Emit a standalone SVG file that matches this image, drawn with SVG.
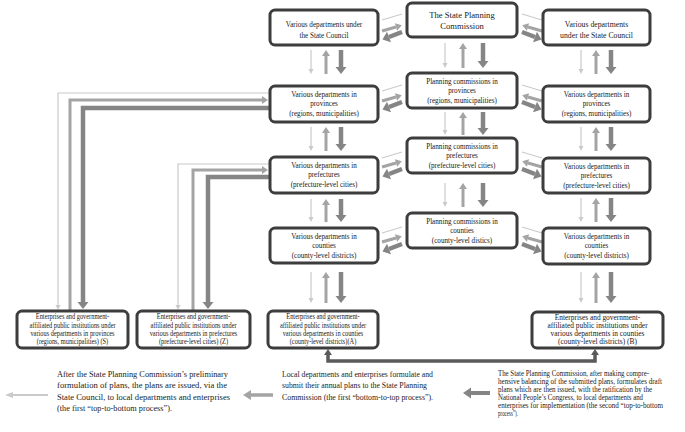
<svg xmlns="http://www.w3.org/2000/svg" width="685" height="432" viewBox="0 0 685 432">
<defs>
<style>
.box{fill:#fff;stroke:#3d3d3d;stroke-width:3}
.t{font-family:"Liberation Serif","Times New Roman",serif;font-size:8.6px;fill:#1a1a1a;text-anchor:middle}
.ts{font-size:7.4px}
.note{font-family:"Liberation Serif","Times New Roman",serif;font-size:8.6px;fill:#222}
.nr{font-size:7.3px}
.lL{fill:none;stroke:#cacaca;stroke-width:1.2}
.lM{fill:none;stroke:#a4a4a4;stroke-width:3}
.lD{fill:none;stroke:#858585;stroke-width:4.5}
.lB{fill:none;stroke:#5a5a5a;stroke-width:3.5}
</style>
<marker id="aL" markerUnits="userSpaceOnUse" markerWidth="5" markerHeight="5" refX="0" refY="2.5" orient="auto" overflow="visible"><path d="M0,0 L5,2.5 L0,5 z" fill="#cacaca"/></marker>
<marker id="aM" markerUnits="userSpaceOnUse" markerWidth="6" markerHeight="8" refX="0" refY="4" orient="auto" overflow="visible"><path d="M0,0 L6,4 L0,8 z" fill="#a4a4a4"/></marker>
<marker id="aD" markerUnits="userSpaceOnUse" markerWidth="7" markerHeight="11" refX="0" refY="5.5" orient="auto" overflow="visible"><path d="M0,0 L7,5.5 L0,11 z" fill="#858585"/></marker>
<marker id="aB" markerUnits="userSpaceOnUse" markerWidth="6" markerHeight="8" refX="0" refY="4" orient="auto-start-reverse" overflow="visible"><path d="M0,0 L6,4 L0,8 z" fill="#5a5a5a"/></marker>
<marker id="aLL" markerUnits="userSpaceOnUse" markerWidth="8" markerHeight="6" refX="0" refY="3" orient="auto" overflow="visible"><path d="M0,0 L8,3 L0,6 z" fill="#cacaca"/></marker>
<marker id="aMM" markerUnits="userSpaceOnUse" markerWidth="8" markerHeight="10" refX="0" refY="5" orient="auto" overflow="visible"><path d="M0,0 L8,5 L0,10 z" fill="#a4a4a4"/></marker>
<marker id="aDD" markerUnits="userSpaceOnUse" markerWidth="8" markerHeight="11" refX="0" refY="5.5" orient="auto" overflow="visible"><path d="M0,0 L8,5.5 L0,11 z" fill="#858585"/></marker>
</defs>
<rect width="685" height="432" fill="#fff"/>

<g id="connectors">
<!-- vertical arrows left column -->
<path class="lL" d="M311,50 V69" marker-end="url(#aL)"/>
<path class="lM" d="M326,74 V56" marker-end="url(#aM)"/>
<path class="lD" d="M341,50 V67" marker-end="url(#aD)"/>
<path class="lL" d="M311,127 V146" marker-end="url(#aL)"/>
<path class="lM" d="M326,151 V133" marker-end="url(#aM)"/>
<path class="lD" d="M341,127 V144" marker-end="url(#aD)"/>
<path class="lL" d="M311,199 V217" marker-end="url(#aL)"/>
<path class="lM" d="M326,222 V205" marker-end="url(#aM)"/>
<path class="lD" d="M341,199 V215" marker-end="url(#aD)"/>
<path class="lL" d="M311,272 V298" marker-end="url(#aL)"/>
<path class="lM" d="M326,303 V278" marker-end="url(#aM)"/>
<path class="lD" d="M341,272 V296" marker-end="url(#aD)"/>
<!-- vertical arrows center column -->
<path class="lL" d="M445,43 V63" marker-end="url(#aL)"/>
<path class="lM" d="M463,68 V49" marker-end="url(#aM)"/>
<path class="lD" d="M483,43 V61" marker-end="url(#aD)"/>
<path class="lL" d="M445,112 V130" marker-end="url(#aL)"/>
<path class="lM" d="M463,135 V118" marker-end="url(#aM)"/>
<path class="lD" d="M483,112 V128" marker-end="url(#aD)"/>
<path class="lL" d="M445,183 V202" marker-end="url(#aL)"/>
<path class="lM" d="M463,207 V189" marker-end="url(#aM)"/>
<path class="lD" d="M483,183 V200" marker-end="url(#aD)"/>
<!-- vertical arrows right column -->
<path class="lL" d="M581,50 V69" marker-end="url(#aL)"/>
<path class="lM" d="M596,74 V56" marker-end="url(#aM)"/>
<path class="lD" d="M611,50 V67" marker-end="url(#aD)"/>
<path class="lL" d="M581,127 V146" marker-end="url(#aL)"/>
<path class="lM" d="M596,151 V133" marker-end="url(#aM)"/>
<path class="lD" d="M611,127 V144" marker-end="url(#aD)"/>
<path class="lL" d="M581,198 V217" marker-end="url(#aL)"/>
<path class="lM" d="M596,222 V204" marker-end="url(#aM)"/>
<path class="lD" d="M611,198 V215" marker-end="url(#aD)"/>
<path class="lL" d="M581,272 V298" marker-end="url(#aL)"/>
<path class="lM" d="M596,303 V278" marker-end="url(#aM)"/>
<path class="lD" d="M611,272 V296" marker-end="url(#aD)"/>
<!-- slanted arrows, row 1 (T=3) -->
<path class="lL" d="M402,14 L382,20"/>
<path class="lM" d="M382,31 L396,27" marker-end="url(#aM)"/>
<path class="lD" d="M402,32 L389,37" marker-end="url(#aD)"/>
<path class="lL" d="M522,14 L542,20"/>
<path class="lM" d="M542,31 L528,27" marker-end="url(#aM)"/>
<path class="lD" d="M522,32 L535,37" marker-end="url(#aD)"/>
<!-- row 2 (T=73) -->
<path class="lL" d="M402,85 L382,91"/>
<path class="lM" d="M382,101 L396,97" marker-end="url(#aM)"/>
<path class="lD" d="M402,102 L389,107" marker-end="url(#aD)"/>
<path class="lL" d="M522,85 L542,91"/>
<path class="lM" d="M542,101 L528,97" marker-end="url(#aM)"/>
<path class="lD" d="M522,102 L535,107" marker-end="url(#aD)"/>
<!-- row 3 (T=138) -->
<path class="lL" d="M402,152 L382,158"/>
<path class="lM" d="M382,167 L396,163" marker-end="url(#aM)"/>
<path class="lD" d="M402,169 L389,174" marker-end="url(#aD)"/>
<path class="lL" d="M522,152 L542,158"/>
<path class="lM" d="M542,167 L528,163" marker-end="url(#aM)"/>
<path class="lD" d="M522,169 L535,174" marker-end="url(#aD)"/>
<!-- row 4 (T=213) -->
<path class="lL" d="M402,227 L382,233"/>
<path class="lM" d="M382,242 L396,238" marker-end="url(#aM)"/>
<path class="lD" d="M402,244 L389,249" marker-end="url(#aD)"/>
<path class="lL" d="M522,227 L542,233"/>
<path class="lM" d="M542,242 L528,238" marker-end="url(#aM)"/>
<path class="lD" d="M522,244 L535,249" marker-end="url(#aD)"/>
<!-- left elbow connectors: provinces <-> S -->
<path class="lL" d="M270,93 H58 V305" marker-end="url(#aL)"/>
<path class="lM" d="M70,311 V100 H262" marker-end="url(#aM)"/>
<path class="lD" d="M270,108 H83 V302" marker-end="url(#aD)"/>
<!-- prefectures <-> Z -->
<path class="lL" d="M270,164 H178 V305" marker-end="url(#aL)"/>
<path class="lM" d="M193,311 V170 H262" marker-end="url(#aM)"/>
<path class="lD" d="M270,177 H208 V302" marker-end="url(#aD)"/>
<!-- bottom link A <-> B -->
<path class="lB" d="M328,355 V361 H595 V355" marker-start="url(#aB)" marker-end="url(#aB)"/>
<!-- legend arrows -->
<path fill="none" stroke="#cacaca" stroke-width="2.2" d="M48,395 H13" marker-end="url(#aLL)"/>
<path fill="none" stroke="#a4a4a4" stroke-width="3.5" d="M273,395 H251" marker-end="url(#aMM)"/>
<path fill="none" stroke="#858585" stroke-width="4" d="M490,393 H471" marker-end="url(#aDD)"/>
</g>

<g id="n-council-left">
<rect class="box" x="270" y="10" width="108" height="35" rx="5"/>
<g transform="translate(324,0) scale(0.83,1)"><text class="t" x="0" y="27">Various departments under</text><text class="t" x="0" y="38">the State Council</text></g>
</g>
<g id="n-spc">
<rect class="box" x="407" y="3" width="110" height="34" rx="5"/>
<text class="t" x="462" y="17.5">The State Planning</text>
<text class="t" x="462" y="28.5">Commission</text>
</g>
<g id="n-council-right">
<rect class="box" x="543" y="10" width="107" height="35" rx="5"/>
<g transform="translate(596.5,0) scale(0.9,1)"><text class="t" x="0" y="27">Various departments</text><text class="t" x="0" y="38">under the State Council</text></g>
</g>

<g id="n-prov-left">
<rect class="box" x="270" y="86" width="108" height="36" rx="5"/>
<g transform="translate(324,0) scale(0.83,1)"><text class="t" x="0" y="97">Various departments in</text><text class="t" x="0" y="106.5">provinces</text><text class="t" x="0" y="116">(regions, municipalities)</text></g>
</g>
<g id="n-prov-center">
<rect class="box" x="407" y="73" width="110" height="35" rx="5"/>
<g transform="translate(462,0) scale(0.83,1)"><text class="t" x="0" y="84">Planning commissions in</text><text class="t" x="0" y="93.5">provinces</text><text class="t" x="0" y="103">(regions, municipalities)</text></g>
</g>
<g id="n-prov-right">
<rect class="box" x="543" y="86" width="107" height="36" rx="5"/>
<g transform="translate(596.5,0) scale(0.83,1)"><text class="t" x="0" y="97">Various departments in</text><text class="t" x="0" y="106.5">provinces</text><text class="t" x="0" y="116">(regions, municipalities)</text></g>
</g>

<g id="n-pref-left">
<rect class="box" x="270" y="157" width="108" height="36" rx="5"/>
<g transform="translate(324,0) scale(0.83,1)"><text class="t" x="0" y="168">Various departments in</text><text class="t" x="0" y="177.5">prefectures</text><text class="t" x="0" y="187">(prefecture-level cities)</text></g>
</g>
<g id="n-pref-center">
<rect class="box" x="407" y="138" width="110" height="35" rx="5"/>
<g transform="translate(462,0) scale(0.83,1)"><text class="t" x="0" y="149">Planning commissions in</text><text class="t" x="0" y="158.5">prefectures</text><text class="t" x="0" y="168">(prefecture-level cities)</text></g>
</g>
<g id="n-pref-right">
<rect class="box" x="543" y="158" width="107" height="35" rx="5"/>
<g transform="translate(596.5,0) scale(0.83,1)"><text class="t" x="0" y="169">Various departments in</text><text class="t" x="0" y="178.5">prefectures</text><text class="t" x="0" y="188">(prefecture-level cities)</text></g>
</g>

<g id="n-county-left">
<rect class="box" x="270" y="228" width="108" height="35" rx="5"/>
<g transform="translate(324,0) scale(0.83,1)"><text class="t" x="0" y="239">Various departments in</text><text class="t" x="0" y="248.5">counties</text><text class="t" x="0" y="258">(county-level districts)</text></g>
</g>
<g id="n-county-center">
<rect class="box" x="407" y="213" width="110" height="35" rx="5"/>
<g transform="translate(462,0) scale(0.83,1)"><text class="t" x="0" y="224">Planning commissions in</text><text class="t" x="0" y="233.5">counties</text><text class="t" x="0" y="243">(county-level distics)</text></g>
</g>
<g id="n-county-right">
<rect class="box" x="543" y="228" width="107" height="36" rx="5"/>
<g transform="translate(596.5,0) scale(0.83,1)"><text class="t" x="0" y="239">Various departments in</text><text class="t" x="0" y="248.5">counties</text><text class="t" x="0" y="258">(county-level districts)</text></g>
</g>

<g id="n-ent-s">
<rect class="box" x="17" y="311" width="111" height="37" rx="5"/>
<g transform="translate(72.5,0) scale(0.86,1)"><text class="t ts" x="0" y="319.5">Enterprises and government-</text><text class="t ts" x="0" y="327.7">affiliated public institutions under</text><text class="t ts" x="0" y="335.9">various departments in provinces</text><text class="t ts" x="0" y="344.1">(regions, municipalities) (S)</text></g>
</g>
<g id="n-ent-z">
<rect class="box" x="137" y="311" width="113" height="37" rx="5"/>
<g transform="translate(193.5,0) scale(0.86,1)"><text class="t ts" x="0" y="319.5">Enterprises and government-</text><text class="t ts" x="0" y="327.7">affiliated public institutions under</text><text class="t ts" x="0" y="335.9">various departments in prefectures</text><text class="t ts" x="0" y="344.1">(prefecture-level cities) (Z)</text></g>
</g>
<g id="n-ent-a">
<rect class="box" x="268" y="311" width="110" height="37" rx="5"/>
<g transform="translate(323,0) scale(0.86,1)"><text class="t ts" x="0" y="319.5">Enterprises and government-</text><text class="t ts" x="0" y="327.7">affiliated public institutions under</text><text class="t ts" x="0" y="335.9">various departments in counties</text><text class="t ts" x="0" y="344.1">(county-level districts)(A)</text></g>
</g>
<g id="n-ent-b">
<rect class="box" x="532" y="312" width="131" height="36" rx="5"/>
<g transform="translate(597.5,0) scale(1,1)"><text class="t ts" x="0" y="320">Enterprises and government-</text><text class="t ts" x="0" y="328">affiliated public institutions under</text><text class="t ts" x="0" y="336">various departments in counties</text><text class="t ts" x="0" y="344">(county-level districts) (B)</text></g>
</g>

<g id="legend-text">
<text class="note" x="57" y="377" textLength="171" lengthAdjust="spacingAndGlyphs">After the State Planning Commission’s preliminary</text>
<text class="note" x="57" y="388.3" textLength="170" lengthAdjust="spacingAndGlyphs">formulation of plans, the plans are issued, via the</text>
<text class="note" x="57" y="399.6" textLength="173" lengthAdjust="spacingAndGlyphs">State Council, to local departments and enterprises</text>
<text class="note" x="57" y="411" textLength="115" lengthAdjust="spacingAndGlyphs">(the first “top-to-bottom process”).</text>
<text class="note" x="282" y="377" textLength="151" lengthAdjust="spacingAndGlyphs">Local departments and enterprises formulate and</text>
<text class="note" x="282" y="388.3" textLength="145" lengthAdjust="spacingAndGlyphs">submit their annual plans to the State Planning</text>
<text class="note" x="282" y="399.6" textLength="151" lengthAdjust="spacingAndGlyphs">Commission (the first “bottom-to-top process”).</text>
<text class="note nr" x="498" y="376" textLength="151" lengthAdjust="spacingAndGlyphs">The State Planning Commission, after making compre-</text>
<text class="note nr" x="498" y="384" textLength="164" lengthAdjust="spacingAndGlyphs">hensive balancing of the submitted plans, formulates draft</text>
<text class="note nr" x="498" y="392" textLength="154" lengthAdjust="spacingAndGlyphs">plans which are then issued, with the ratification by the</text>
<text class="note nr" x="498" y="400" textLength="145" lengthAdjust="spacingAndGlyphs">National People’s Congress, to local departments and</text>
<text class="note nr" x="498" y="408" textLength="165" lengthAdjust="spacingAndGlyphs">enterprises for implementation (the second “top-to-bottom</text>
<text class="note nr" x="498" y="416" textLength="20" lengthAdjust="spacingAndGlyphs">process”).</text>
</g>
</svg>
